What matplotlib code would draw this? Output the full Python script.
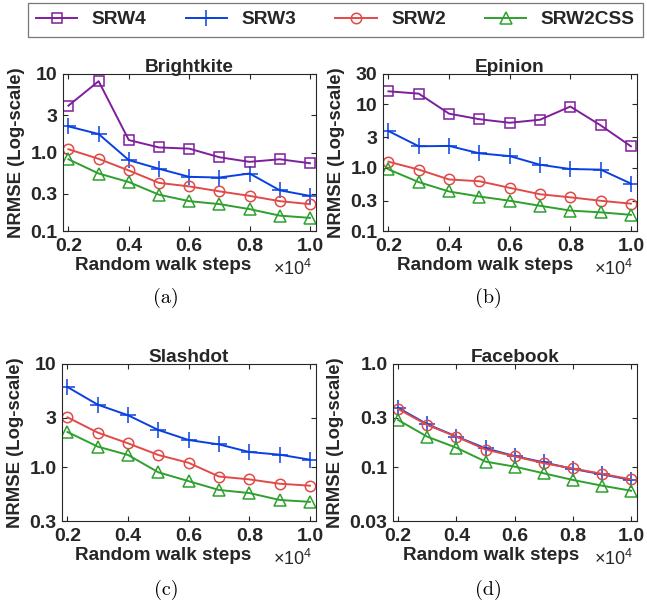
import numpy as np
import matplotlib
matplotlib.use('Agg')
import matplotlib.pyplot as plt
from matplotlib.lines import Line2D

plt.rcParams['font.family'] = ['Liberation Sans', 'DejaVu Sans']
plt.rcParams['mathtext.fontset'] = 'custom'
plt.rcParams['mathtext.rm'] = 'Liberation Sans'
plt.rcParams['mathtext.it'] = 'Liberation Sans:italic'
plt.rcParams['mathtext.bf'] = 'Liberation Sans:bold'

# Random walk steps (x1e4)
steps = [0.2, 0.3, 0.4, 0.5, 0.6, 0.7, 0.8, 0.9, 1.0]

# Brightkite
bk_srw4 = [3.95, 8.1, 1.44, 1.16, 1.12, 0.87, 0.76, 0.82, 0.73]
bk_srw3 = [2.15, 1.72, 0.80, 0.62, 0.49, 0.48, 0.54, 0.33, 0.28]
bk_srw2 = [1.10, 0.83, 0.59, 0.41, 0.37, 0.32, 0.28, 0.24, 0.22]
bk_css = [0.82, 0.54, 0.42, 0.29, 0.24, 0.22, 0.19, 0.157, 0.147]

# Epinion
ep_srw4 = [16.0, 14.7, 7.1, 5.8, 5.1, 5.7, 9.2, 4.65, 2.17]
ep_srw3 = [3.78, 2.17, 2.2, 1.68, 1.52, 1.11, 0.95, 0.93, 0.56]
ep_srw2 = [1.24, 0.93, 0.65, 0.61, 0.48, 0.38, 0.34, 0.30, 0.27]
ep_css = [0.94, 0.59, 0.42, 0.35, 0.30, 0.25, 0.21, 0.197, 0.18]

# Slashdot
sd_srw3 = [5.98, 4.03, 3.18, 2.29, 1.83, 1.66, 1.40, 1.32, 1.18]
sd_srw2 = [3.04, 2.16, 1.70, 1.31, 1.10, 0.81, 0.76, 0.69, 0.66]
sd_css = [2.19, 1.58, 1.31, 0.89, 0.73, 0.60, 0.56, 0.48, 0.46]

# Facebook
fb_srw3 = [0.375, 0.26, 0.198, 0.152, 0.128, 0.111, 0.096, 0.085, 0.075]
fb_srw2 = [0.366, 0.256, 0.197, 0.148, 0.127, 0.109, 0.097, 0.086, 0.076]
fb_css = [0.286, 0.197, 0.154, 0.113, 0.101, 0.087, 0.075, 0.066, 0.059]

names = ['SRW4', 'SRW3', 'SRW2', 'SRW2CSS']
colors = {'SRW4': '#7E1E9C', 'SRW3': '#0A40E0', 'SRW2': '#E24A48', 'SRW2CSS': '#2EA02E'}
markers = {'SRW4': 's', 'SRW3': '+', 'SRW2': 'o', 'SRW2CSS': '^'}
msizes = {'SRW4': 7.5, 'SRW3': 11, 'SRW2': 7.5, 'SRW2CSS': 8.5}
txt = '#262626'

panels = [
    ('Brightkite', {'SRW4': bk_srw4, 'SRW3': bk_srw3, 'SRW2': bk_srw2, 'SRW2CSS': bk_css},
     (0.1, 10), [0.1, 0.3, 1, 3, 10], ['0.1', '0.3', '1.0', '3', '10'], '(a)'),
    ('Epinion', {'SRW4': ep_srw4, 'SRW3': ep_srw3, 'SRW2': ep_srw2, 'SRW2CSS': ep_css},
     (0.1, 30), [0.1, 0.3, 1, 3, 10, 30], ['0.1', '0.3', '1.0', '3', '10', '30'], '(b)'),
    ('Slashdot', {'SRW3': sd_srw3, 'SRW2': sd_srw2, 'SRW2CSS': sd_css},
     (0.3, 10), [0.3, 1, 3, 10], ['0.3', '1.0', '3', '10'], '(c)'),
    ('Facebook', {'SRW3': fb_srw3, 'SRW2': fb_srw2, 'SRW2CSS': fb_css},
     (0.03, 1.0), [0.03, 0.1, 0.3, 1.0], ['0.03', '0.1', '0.3', '1.0'], '(d)'),
]

W, H = 647.0, 605.0
# axes boxes in pixels: left, top, right, bottom
boxes = [(63, 74, 316, 231), (383, 74, 637, 231), (62, 364, 316, 521), (393, 364, 637, 521)]
# sub-caption centres in pixels
caps = [(166, 298), (488, 298), (166, 590), (488, 590)]
# x-label centres (pixels)
xlab_x = [163.5, 485, 163.5, 491]

fig = plt.figure(figsize=(6.47, 6.05), dpi=100)

for (title, series, ylim, yt, ytl, cap), box, cpos, xl in zip(panels, boxes, caps, xlab_x):
    l, t, r, b = box
    ax = fig.add_axes([l / W, 1 - b / H, (r - l) / W, (b - t) / H])
    for name in names:
        if name not in series:
            continue
        ax.plot(steps, series[name], color=colors[name], marker=markers[name],
                markersize=msizes[name], markerfacecolor='none', markeredgewidth=1.1,
                linewidth=1.4)
    ax.set_yscale('log')
    ax.set_ylim(*ylim)
    ax.set_xlim(0.182, 1.02)
    ax.set_yticks(yt)
    ax.set_yticklabels(ytl)
    ax.minorticks_off()
    ax.set_xticks(steps[::2])
    ax.set_xticklabels(['%.1f' % v for v in steps[::2]])
    ax.tick_params(direction='in', top=True, right=True, length=3.5, width=0.8,
                   labelsize=14, colors=txt)
    ax.tick_params(axis='x', pad=5)
    ax.tick_params(axis='y', pad=4)
    for lbl in ax.get_xticklabels() + ax.get_yticklabels():
        lbl.set_fontweight('bold')
    for sp in ax.spines.values():
        sp.set_linewidth(0.8)
        sp.set_color(txt)
    ax.set_title(title, fontsize=13.7, fontweight='bold', pad=1.5, color=txt)
    ax.set_xlabel('Random walk steps', fontsize=13.6, fontweight='bold', color=txt,
                  va='center')
    ax.xaxis.set_label_coords((xl - l) / (r - l), -(266 - 231) / 157.0)
    ax.set_ylabel('NRMSE (Log-scale)', fontsize=13.3, fontweight='bold', labelpad=4,
                  color=txt)
    fig.text((r - 23) / W, 1 - (b + 37.5) / H, r'$\times\mathrm{10^4}$', fontsize=13,
             ha='center', va='center', color=txt)
    fig.text(cpos[0] / W, 1 - cpos[1] / H, cap, fontsize=14.5, family='cmr10',
             ha='center', va='center', color='black')

handles = [Line2D([0], [0], color=colors[n], marker=markers[n], markersize=msizes[n],
                  markerfacecolor='none', markeredgewidth=1.1, linewidth=1.4) for n in names]
leg = fig.legend(handles, names, loc='upper left', bbox_to_anchor=(28 / W, 1 - 3 / H), ncol=4,
                 frameon=True, fancybox=False, edgecolor='#555555', handlelength=2.15,
                 handletextpad=0.75, columnspacing=2.05, borderaxespad=0,
                 prop={'weight': 'bold', 'size': 13.8}, borderpad=0.42)
leg.get_frame().set_linewidth(0.9)
for t_ in leg.get_texts():
    t_.set_color(txt)

fig.savefig('out.png', dpi=100)
